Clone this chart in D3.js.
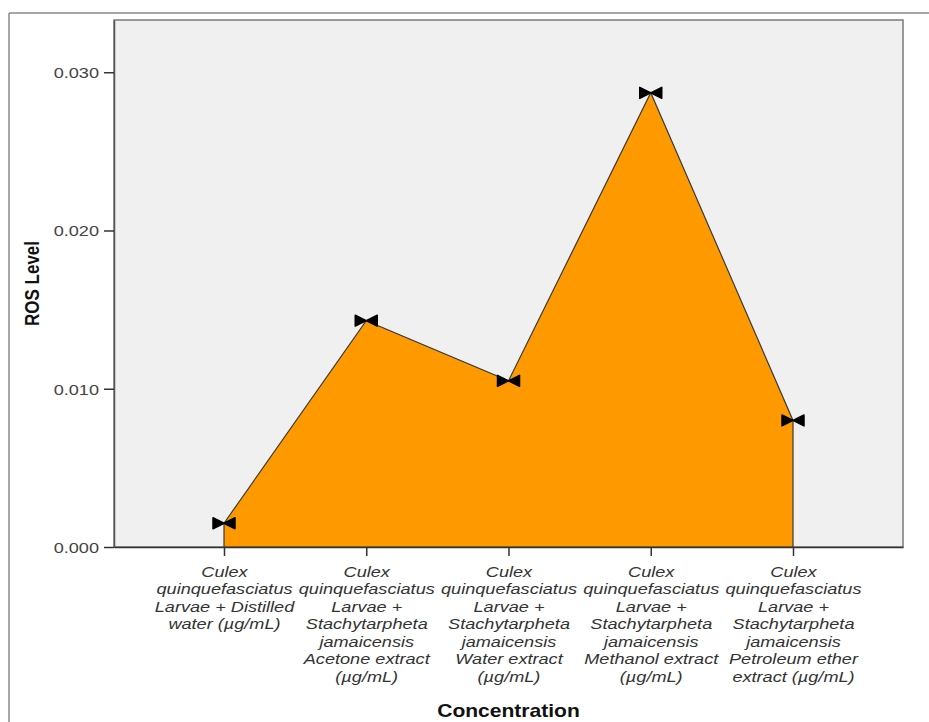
<!DOCTYPE html>
<html>
<head>
<meta charset="utf-8">
<script src="https://cdn.jsdelivr.net/npm/d3@7/dist/d3.min.js"></script>
<style>
  html, body { margin: 0; padding: 0; background: #fff; }
  svg { display: block; }
</style>
</head>
<body>
<svg id="chart" width="929" height="722"></svg>
<script>
// Category labels (each entry is the list of wrapped lines)
const categories = [
  ["Culex", "quinquefasciatus", "Larvae + Distilled", "water (µg/mL)"],
  ["Culex", "quinquefasciatus", "Larvae +", "Stachytarpheta", "jamaicensis", "Acetone extract", "(µg/mL)"],
  ["Culex", "quinquefasciatus", "Larvae +", "Stachytarpheta", "jamaicensis", "Water extract", "(µg/mL)"],
  ["Culex", "quinquefasciatus", "Larvae +", "Stachytarpheta", "jamaicensis", "Methanol extract", "(µg/mL)"],
  ["Culex", "quinquefasciatus", "Larvae +", "Stachytarpheta", "jamaicensis", "Petroleum ether", "extract (µg/mL)"]
];
const rosLevel = [0.0015, 0.0143, 0.0105, 0.0287, 0.0080];
const yTicks = [0.000, 0.010, 0.020, 0.030];

const FONT = "Arial, 'Liberation Sans', sans-serif";
const WIDE = 1.17; // text is drawn slightly wide

const svg = d3.select("#chart");
const plot = { left: 114, top: 20, right: 903, bottom: 547 };

// outer frame (top and left edges)
svg.append("line").attr("x1", 9).attr("y1", 13).attr("x2", 929).attr("y2", 13)
  .attr("stroke", "#8a8a8a").attr("stroke-width", 1.5);
svg.append("line").attr("x1", 9).attr("y1", 13).attr("x2", 9).attr("y2", 722)
  .attr("stroke", "#8a8a8a").attr("stroke-width", 1.5);

const keys = categories.map((d, i) => i);
const x = d3.scalePoint().domain(keys).range([plot.left, plot.right]).padding(0.7733);
const y = d3.scaleLinear().domain([0, 0.0333]).range([plot.bottom, plot.top]);

// plot background
svg.append("rect")
  .attr("x", plot.left).attr("y", plot.top)
  .attr("width", plot.right - plot.left).attr("height", plot.bottom - plot.top)
  .attr("fill", "#f0f0f0").attr("stroke", "#7a7a7a").attr("stroke-width", 1.5);

// area
const area = d3.area()
  .x((d, i) => x(i))
  .y0(y(0))
  .y1(d => y(d));
svg.append("path")
  .datum(rosLevel)
  .attr("d", area)
  .attr("fill", "#ff9900")
  .attr("stroke", "#3a3a3a")
  .attr("stroke-width", 1.2)
  .attr("stroke-linejoin", "miter");

// axes
const yAxis = d3.axisLeft(y).tickValues(yTicks).tickFormat(d3.format(".3f")).tickSize(10).tickSizeOuter(0);
const gy = svg.append("g").attr("transform", `translate(${plot.left},0)`).call(yAxis);
gy.select(".domain").attr("stroke", "#555").attr("stroke-width", 1.5);
gy.selectAll(".tick line").attr("stroke", "#333").attr("stroke-width", 1.5);
gy.selectAll(".tick text")
  .attr("font-family", FONT).attr("font-size", 15.5).attr("fill", "#444")
  .attr("x", 0).attr("dy", "0.34em")
  .attr("transform", `translate(-15,0) scale(${WIDE},1)`);

const xAxis = d3.axisBottom(x).tickSize(9).tickSizeOuter(0).tickFormat("");
const gx = svg.append("g").attr("transform", `translate(0,${plot.bottom})`).call(xAxis);
gx.select(".domain").attr("stroke", "#333").attr("stroke-width", 1.5);
gx.selectAll(".tick line").attr("stroke", "#333").attr("stroke-width", 1.5);

// wrapped category labels
gx.selectAll(".tick").each(function (d) {
  const t = d3.select(this).append("text")
    .attr("y", 30)
    .attr("transform", `scale(${WIDE},1)`)
    .attr("text-anchor", "middle")
    .attr("font-family", FONT)
    .attr("font-size", 15.5)
    .attr("font-style", "italic")
    .attr("fill", "#333");
  categories[d].forEach((line, j) => {
    t.append("tspan").attr("x", 0).attr("dy", j === 0 ? 0 : 17.5).text(line);
  });
});

// bow-tie markers at each value
const bow = "M-11,-5.5 L0,0 L-11,5.5 Z M11,-5.5 L0,0 L11,5.5 Z";
svg.selectAll(".marker")
  .data(rosLevel)
  .enter().append("path")
  .attr("class", "marker")
  .attr("transform", (d, i) => `translate(${x(i)},${y(d)})`)
  .attr("d", bow)
  .attr("fill", "#000")
  .attr("stroke", "#000")
  .attr("stroke-width", 1.5)
  .attr("stroke-linejoin", "round");

// axis titles
svg.append("text")
  .attr("transform", `translate(${(plot.left + plot.right) / 2},717) scale(${WIDE},1)`)
  .attr("text-anchor", "middle")
  .attr("font-family", FONT)
  .attr("font-size", 18).attr("font-weight", "bold").attr("fill", "#111")
  .text("Concentration");
svg.append("text")
  .attr("transform", `translate(39,${(plot.top + plot.bottom) / 2}) rotate(-90) scale(1,${WIDE})`)
  .attr("text-anchor", "middle")
  .attr("font-family", FONT)
  .attr("font-size", 17).attr("font-weight", "bold").attr("fill", "#111")
  .text("ROS Level");
</script>
</body>
</html>
